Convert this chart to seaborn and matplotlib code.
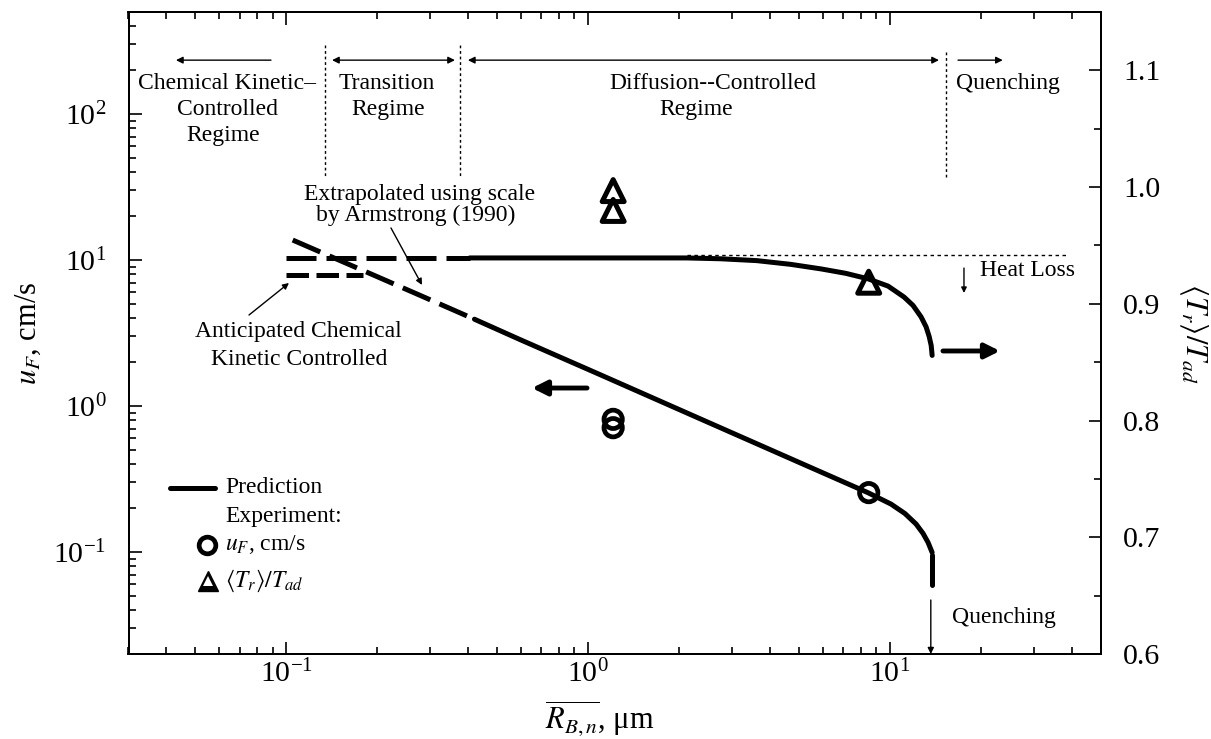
import matplotlib
matplotlib.use("Agg")
import matplotlib.pyplot as plt
import seaborn as sns
import pandas as pd
from matplotlib.ticker import MultipleLocator, FormatStrFormatter, LogLocator, NullFormatter

# ---------------- data ----------------
# Predicted flame speed u_F (left axis), extrapolated (dashed) part
R_uf_extrap = [0.105, 0.2, 0.29, 0.42]
uf_extrap = [13.7, 7.69, 5.5, 3.93]
# Predicted flame speed, solid part
R_uf_pred = [0.42, 0.594, 1.096, 2.356, 5.063, 8.45, 10.08, 11.21, 12.2, 12.87, 13.37, 13.79]
uf_pred = [3.93, 2.853, 1.638, 0.815, 0.406, 0.2548, 0.2127, 0.1832, 0.1553, 0.1338, 0.1161, 0.0992]
# Quenching tail of u_F
R_uf_tail = [13.8, 13.8]
uf_tail = [0.0946, 0.0592]
# Anticipated chemical-kinetic-controlled u_F
R_uf_kin = [0.1, 0.18]
uf_kin = [7.84, 7.84]

# Predicted temperature ratio <T_r>/T_ad (right axis)
R_T_dash = [0.1, 0.405]
T_dash = [0.9393, 0.9393]
R_T_pred = [0.405, 1.0, 2.12, 2.745, 3.62, 4.69, 5.91, 7.14, 8.46, 9.85, 11.13, 11.92,
            12.68, 13.17, 13.48, 13.69, 13.79]
T_pred = [0.9393, 0.9393, 0.9393, 0.9386, 0.9370, 0.9338, 0.9299, 0.9261, 0.9214, 0.9152,
          0.9058, 0.8986, 0.8887, 0.8802, 0.8720, 0.8643, 0.8558]
# Adiabatic (no heat loss) reference level
R_heatloss = [2.12, 39.0]
T_heatloss = [0.942, 0.942]

# Experiments
R_exp_uf = [1.21, 1.21, 8.5]
uf_exp = [0.81, 0.71, 0.255]
R_exp_T = [1.21, 1.21, 8.5]
T_exp = [0.997, 0.980, 0.9185]

x_lim = (0.03, 50)
yl_lim = (0.02, 500)
yr_lim = (0.6, 1.15)

# ---------------- styling ----------------
sns.set_theme(style="ticks", rc={
    "axes.edgecolor": "black", "text.color": "black", "axes.labelcolor": "black",
    "xtick.color": "black", "ytick.color": "black",
})
plt.rcParams["font.family"] = ["Liberation Serif", "DejaVu Serif"]
plt.rcParams["mathtext.fontset"] = "stix"

fig = plt.figure(figsize=(12.11, 7.39), dpi=100)
L, B, W, H = 128.5 / 1211, 1 - 654 / 739, 972.5 / 1211, 642 / 739
ax = fig.add_axes([L, B, W, H])
ax.set_xscale("log")
ax.set_yscale("log")
ax.set_xlim(*x_lim)
ax.set_ylim(*yl_lim)
ax2 = ax.twinx()
ax2.set_ylim(*yr_lim)

LW = 3.6
k = "black"

def line(axis, x, y, dashes=None, lw=LW):
    sns.lineplot(x=x, y=y, ax=axis, color=k, lw=lw, sort=False, estimator=None, legend=False)
    ln = axis.lines[-1]
    ln.set_solid_joinstyle("round")
    if dashes is not None:
        ln.set_dashes(dashes)
        ln.set_dash_capstyle("butt")
    return ln

# u_F curves
line(ax, R_uf_extrap, uf_extrap, dashes=(6, 2))
line(ax, R_uf_pred, uf_pred)
line(ax, R_uf_tail, uf_tail)
line(ax, R_uf_kin, uf_kin, dashes=(4.5, 1.5))
# temperature curves
line(ax2, R_T_dash, T_dash, dashes=(6, 2))
line(ax2, R_T_pred, T_pred)
line(ax2, R_heatloss, T_heatloss, dashes=(2.5, 2.5), lw=1.0)

# experiments
sns.scatterplot(x=R_exp_uf, y=uf_exp, ax=ax, marker="o", s=175, facecolors="none",
                edgecolor=k, linewidth=3.4, zorder=5, legend=False)
sns.scatterplot(x=R_exp_T, y=T_exp, ax=ax2, marker="^", s=250, facecolors="none",
                edgecolor=k, linewidth=3.6, zorder=5, legend=False)

# ---------------- axes / ticks ----------------
for a in (ax, ax2):
    for sp in a.spines.values():
        sp.set_linewidth(1.4)
        sp.set_color(k)

ax.xaxis.set_major_locator(LogLocator(base=10, numticks=20))
ax.xaxis.set_minor_locator(LogLocator(base=10, subs=range(2, 10), numticks=50))
ax.xaxis.set_minor_formatter(NullFormatter())
ax.yaxis.set_major_locator(LogLocator(base=10, numticks=20))
ax.yaxis.set_minor_locator(LogLocator(base=10, subs=range(2, 10), numticks=50))
ax.yaxis.set_minor_formatter(NullFormatter())
ax.tick_params(axis="both", which="both", direction="in", top=True, right=False, width=1.2)
ax.tick_params(axis="both", which="major", length=9, labelsize=21.5)
ax.tick_params(axis="both", which="minor", length=5)
ax.tick_params(axis="y", which="major", pad=16)
ax.tick_params(axis="x", which="major", pad=4)

ax2.yaxis.set_major_locator(MultipleLocator(0.1))
ax2.yaxis.set_minor_locator(MultipleLocator(0.05))
ax2.yaxis.set_major_formatter(FormatStrFormatter("%.1f"))
ax2.tick_params(axis="y", which="both", direction="in", width=1.2)
ax2.tick_params(axis="y", which="major", length=9, labelsize=21.5, pad=16)
ax2.tick_params(axis="y", which="minor", length=5)

ax.set_ylabel(r"$u_F$, cm/s", fontsize=22)
ax.yaxis.set_label_coords(-0.088, 0.5)
ax.set_xlabel(r"$\overline{R_{B,n}}$, μm", fontsize=22)
ax.xaxis.set_label_coords(0.485, -0.068)
ax2.set_ylabel(r"$\langle T_r\rangle/T_{ad}$", fontsize=22, rotation=270, va="bottom")
ax2.yaxis.set_label_coords(1.078, 0.5)

# ---------------- annotations (axes fraction) ----------------
tf = ax2.transAxes
FS = 17

def txt(x, y, s, ha="center", fs=FS):
    ax2.text(x, y, s, transform=tf, ha=ha, va="center", fontsize=fs)

def arrow(x0, y0, x1, y1, style="-|>", lw=1.0, ms=10):
    ax2.annotate("", xy=(x1, y1), xytext=(x0, y0), xycoords=tf, textcoords=tf,
                 arrowprops=dict(arrowstyle=style, lw=lw, color=k, mutation_scale=ms,
                                 shrinkA=0, shrinkB=0))

def vdot(x, y0, y1):
    ax2.plot([x, x], [y0, y1], transform=tf, color=k, lw=1.0, dashes=(2, 2))

ya = 0.925
arrow(0.1465, ya, 0.0488, ya)
arrow(0.2093, ya, 0.3357, ya, style="<|-|>")
arrow(0.349, ya, 0.8334, ya, style="<|-|>")
arrow(0.853, ya, 0.899, ya)
vdot(0.2021, 0.9486, 0.7414)
vdot(0.3409, 0.9486, 0.7414)
vdot(0.8406, 0.9377, 0.7414)

txt(0.1013, 0.8894, "Chemical Kinetic\u2013")
txt(0.1023, 0.8474, "Controlled")
txt(0.0972, 0.8084, "Regime")
txt(0.2658, 0.8894, "Transition")
txt(0.2668, 0.8474, "Regime")
txt(0.601, 0.8894, "Diffusion--Controlled")
txt(0.5836, 0.8474, "Regime")
txt(0.9044, 0.8894, "Quenching")

txt(0.2997, 0.715, "Extrapolated using scale")
txt(0.2956, 0.6838, "by Armstrong (1990)")
arrow(0.2699, 0.6636, 0.3018, 0.5748, ms=9)
txt(0.1748, 0.5016, "Anticipated Chemical")
txt(0.1753, 0.458, "Kinetic Controlled")
arrow(0.1239, 0.528, 0.165, 0.5779, ms=9)

txt(0.8756, 0.5981, "Heat Loss", ha="left")
arrow(0.8591, 0.6012, 0.8591, 0.5623, ms=8)
txt(0.8468, 0.0561, "Quenching", ha="left")
arrow(0.825, 0.0841, 0.825, 0.0, ms=9)

# thick direction arrows
arrow(0.8375, 0.472, 0.8961, 0.472, lw=3.5, ms=22)
arrow(0.4715, 0.4143, 0.4149, 0.4143, lw=3.5, ms=22)

# legend (drawn manually to match the layout)
ax2.plot([0.0427, 0.0889], [0.2586, 0.2586], transform=tf, color=k, lw=LW)
txt(0.0992, 0.2586, "Prediction", ha="left")
txt(0.0992, 0.2134, "Experiment:", ha="left")
ax2.plot([0.0804], [0.1698], transform=tf, marker="o", ms=12, mfc="none", mec=k, mew=3.4)
txt(0.0997, 0.1698, r"$u_F$, cm/s", ha="left")
ax2.plot([0.0818], [0.1142], transform=tf, marker="^", ms=15, mfc=k, mec=k, mew=1)
ax2.plot([0.0818], [0.1142], transform=tf, marker="^", ms=6.5, mfc="white", mec="white", mew=0)
txt(0.0997, 0.1142, r"$\langle T_r\rangle/T_{ad}$", ha="left")

fig.savefig("out.png", dpi=100)
